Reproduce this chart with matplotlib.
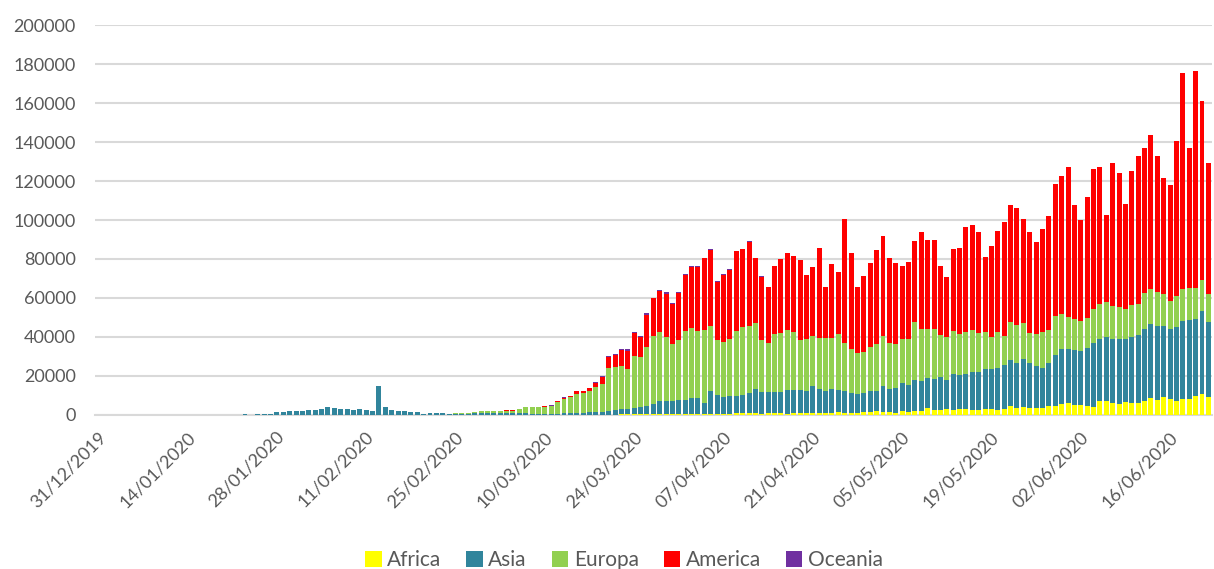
import numpy as np
import pandas as pd
import matplotlib
matplotlib.use("Agg")
import matplotlib.pyplot as plt
import matplotlib.transforms as mtransforms
from matplotlib.patches import Patch

plt.rcParams['font.family'] = ['Lato', 'DejaVu Sans']

# daily new cases by continent, 31/12/2019 .. 22/06/2020
dates = pd.date_range('2019-12-31', '2020-06-22', freq='D')

africa = ([0] * 60 +
          [0, 0, 0, 0, 5, 5, 10, 10, 20, 20,
           30, 40, 50, 60, 80, 100, 120, 150, 170, 200,
           200, 200, 250, 250, 300, 300, 350, 400, 400, 450,
           450, 500, 500, 550, 600, 600, 500, 400, 700, 700,
           800, 800, 900, 800, 700, 800, 900, 900, 600, 1000,
           1100, 850, 1000, 850, 1200, 1000, 1540, 1000, 1000, 1000,
           1540, 1540, 2050, 1710, 1710, 1200, 2050, 1710, 2050, 2050,
           3420, 2565, 2565, 2900, 2565, 2900, 2900, 2565, 2565, 3080,
           3080, 2565, 3080, 4620, 3760, 4275, 3420, 3760, 3760, 4620,
           4620, 5640, 6330, 5130, 5130, 4620, 4275, 7350, 7180, 6330,
           5640, 6840, 6330, 6330, 7180, 8550, 7870, 9060, 8040, 7350,
           8210, 8210, 9750, 10770, 9400])

asia = ([27] + [0] * 19 +
        [80, 150, 130, 260, 200, 400, 450, 700, 1400, 1600,
         2000, 2050, 2200, 2550, 2750, 3050, 4050, 3550, 3200, 3200,
         2500, 2850, 2500, 1850, 14950, 4050, 2500, 2000, 2000, 1650,
         1650, 400, 900, 900, 800, 350, 600, 700, 650, 900,
         1200, 1100, 1100, 900, 1100, 900, 800, 900, 700, 700,
         600, 700, 700, 900, 1000, 1100, 1100, 1200, 1300, 1500,
         2000, 2350, 2650, 2650, 3100, 3975, 4270, 5240, 6780, 6730,
         6730, 7200, 7200, 8170, 8120, 5400, 11800, 9860, 8700, 9050,
         8950, 9460, 10390, 12540, 11270, 11170, 10730, 11070, 12400, 12000,
         11900, 11290, 13700, 12650, 10940, 12340, 11260, 11480, 10460, 9940,
         9920, 10940, 10430, 13170, 11800, 12480, 14360, 13850, 15900, 15560,
         15730, 15730, 16930, 15050, 18470, 17610, 18130, 19665, 19500, 20690,
         20350, 21375, 22570, 23600, 23085, 24280, 23085, 21550, 20180, 22230,
         26160, 28040, 27360, 28215, 27870, 29925, 32490, 31460, 32660, 32660,
         33170, 32150, 33860, 34540, 37110, 38130, 37960, 36770, 35910, 37620,
         40185, 40530, 39670, 42400, 38475])

europa = ([0] * 20 +
          [0, 0, 0, 0, 3, 0, 3, 5, 5, 5,
           10, 10, 5, 10, 10, 10, 10, 10, 20, 5,
           10, 10, 5, 5, 5, 5, 10, 5, 5, 5,
           5, 100, 80, 100, 200, 150, 250, 300, 350, 550,
           750, 850, 1000, 1000, 1150, 1300, 2100, 3000, 3200, 3200,
           3500, 3700, 6100, 7300, 7900, 9650, 10000, 10900, 12700, 14400,
           22060, 22230, 22400, 20520, 26850, 25300, 30100, 35055, 35570, 32660,
           29070, 30780, 35570, 36080, 34370, 37620, 33345, 28390, 28215, 29240,
           33500, 34700, 34370, 33690, 26500, 24800, 29925, 29925, 30440, 29400,
           25650, 26850, 25800, 26160, 27530, 26160, 28730, 24620, 22570, 20860,
           20860, 22570, 23770, 25480, 23600, 22740, 22570, 23430, 29925, 26680,
           24800, 25650, 21375, 21890, 21890, 20860, 21550, 21375, 20000, 18640,
           16760, 18470, 15050, 19665, 19320, 18470, 15390, 16070, 18810, 16760,
           20180, 18300, 16760, 16070, 15390, 15220, 17610, 18130, 17955, 16930,
           16420, 15560, 16245, 16070, 18130, 17955, 17440, 16245, 14700, 16070,
           16420, 16245, 15730, 16070, 14190])

america = ([0] * 51 +
           [10, 20, 20, 30, 20, 40, 60, 80, 100,
            100, 100, 100, 150, 150, 200, 200, 200, 200, 200,
            300, 400, 400, 700, 850, 1200, 1000, 1400, 2400, 3600,
            5640, 6000, 8040, 9580, 11970, 10260, 16760, 19150, 20690, 22400,
            20860, 24110, 28730, 31290, 33000, 36770, 39000, 29750, 34370, 35570,
            40700, 40185, 43260, 33345, 32490, 29070, 34800, 37900, 39400, 39160,
            40870, 33000, 35230, 45800, 26160, 37900, 32000, 63400, 48900, 34000,
            39160, 42750, 48400, 51200, 43430, 41380, 37620, 39500, 41550, 49420,
            45830, 45830, 35570, 30780, 42410, 44120, 53700, 53870, 51640, 38475,
            46510, 52150, 58140, 59850, 59850, 53520, 51810, 47200, 52670, 58650,
            67545, 70620, 76950, 58310, 51810, 62240, 71820, 70450, 44630, 73360,
            68900, 53870, 68900, 76100, 74730, 79000, 69770, 59510, 59340, 79690,
            110640, 72160, 111500, 92000, 67030])

oceania = ([0] * 60 +
           [0, 0, 0, 0, 5, 5, 10, 10, 20, 20,
            20, 30, 30, 40, 40, 50, 80, 100, 150, 200,
            300, 300, 350, 680, 400, 680, 680, 340, 680, 680,
            340, 680, 330, 350, 350, 300, 300, 250, 250, 200,
            150, 150, 100, 100, 80, 50, 50, 50, 50, 50] +
           [30] * 10 + [20] * 55)

series = [('Africa', africa, '#FFFF00'),
          ('Asia', asia, '#31859C'),
          ('Europa', europa, '#92D050'),
          ('America', america, '#FF0000'),
          ('Oceania', oceania, '#7030A0')]

fig = plt.figure(figsize=(12.14, 5.69), dpi=100)
ax = fig.add_axes([0.0783, 0.2707, 0.9197, 0.6853])

x = np.arange(len(dates))
bottom = np.zeros(len(dates))
for name, vals, col in series:
    vals = np.array(vals, dtype=float)
    ax.bar(x, vals, width=0.78, bottom=bottom, color=col, label=name, zorder=3)
    bottom += vals

ax.set_xlim(-0.5, len(dates) - 0.5)
ax.set_ylim(0, 200000)
ax.set_yticks(range(0, 200001, 20000))
ax.set_yticklabels([str(v) for v in range(0, 200001, 20000)])
ax.grid(axis='y', color='#d9d9d9', linewidth=1.5, zorder=0)

ticks = list(range(0, len(dates), 14))
ax.set_xticks(ticks)
ax.set_xticklabels([dates[t].strftime('%d/%m/%Y') for t in ticks],
                   rotation=45, ha='right', va='center', rotation_mode='anchor')

ax.tick_params(axis='y', length=0, pad=14, labelsize=13, labelcolor='#595959')
ax.tick_params(axis='x', length=0, pad=14, labelsize=13, labelcolor='#595959')
# nudge rotated date labels a few pixels right
shift = mtransforms.ScaledTranslation(5 / 100, 0, fig.dpi_scale_trans)
for lbl in ax.get_xticklabels():
    lbl.set_transform(lbl.get_transform() + shift)

for s in ['top', 'right', 'left']:
    ax.spines[s].set_visible(False)
ax.spines['bottom'].set_color('#d9d9d9')
ax.spines['bottom'].set_linewidth(1.5)

handles = [Patch(facecolor=c, label=n) for n, _, c in series]
fig.legend(handles=handles, loc='center', bbox_to_anchor=(0.514, 0.016), ncol=5,
           frameon=False, fontsize=15, handlelength=0.8, handleheight=0.8,
           handletextpad=0.25, columnspacing=1.2, labelcolor='#595959')

fig.savefig('out.png', dpi=100)
